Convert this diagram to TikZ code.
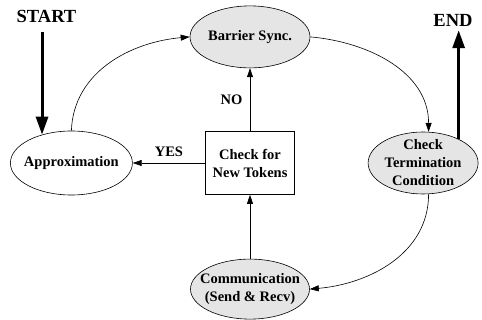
\documentclass[tikz,border=0pt]{standalone}
\usepackage{fontspec}
\setmainfont{Liberation Serif}
\usepackage{tikz}
\usetikzlibrary{arrows.meta,positioning,shapes.geometric}
\tikzset{
  tokenpicture/.style={node distance=63pt and 72.5pt, line width=0.6pt, font=\fontsize{14.5}{18}\selectfont\bfseries},
  tokenstate/.style={ellipse, draw, align=center, inner xsep=-14pt, inner ysep=-10pt, fill=gray!20},
  tokenplain/.style={tokenstate, fill=white},
  tokenbox/.style={draw, align=center, inner sep=0pt, minimum width=89pt, minimum height=63pt},
  tokenend/.style={font=\fontsize{18.5}{21}\selectfont\bfseries},
  tokenarrow/.style={-{Triangle[length=9pt,width=6pt]}},
  tokenbig/.style={-{Triangle[length=18pt,width=12pt]}, line width=3pt}
}

\begin{document}
\begin{tikzpicture}[tokenpicture]
\useasboundingbox (-250pt,-157pt) rectangle (232pt,163pt);
\node[tokenbox] (check) at (0,0) {Check for\\New Tokens};
\node[tokenstate, minimum width=120pt, minimum height=62pt, above=of check] (barrier) {Barrier Sync.};
\node[tokenstate, minimum width=119pt, minimum height=60pt, below=64pt of check] (comm) {Communication\\(Send \& Recv)};
\node[tokenplain, minimum width=122pt, minimum height=64pt, left=of check] (approx) {Approximation};
\node[tokenstate, minimum width=110pt, minimum height=62pt, right=73pt of check] (term) {Check\\Termination\\Condition};
\node[tokenend] (start) at (-203.5pt,146.5pt) {START};
\node[tokenend] (end) at (203pt,142.5pt) {END};
\draw[tokenbig, shorten <=6pt] (approx.136 |- start.south) -- (approx.136);
\draw[tokenbig] (term.34) -- (term.34 |- end.south);
\draw[tokenarrow] (approx.north) to[out=88, in=185] (barrier.west);
\draw[tokenarrow] (barrier.east) to[out=-5, in=90] (term.80);
\draw[tokenarrow] (term.-80) to[out=-90, in=5] (comm.east);
\draw[tokenarrow] (comm) -- (check);
\draw[tokenarrow] (check) -- node[left=4pt] {NO} (barrier);
\draw[tokenarrow] (check) -- node[above=3pt] {YES} (approx);
\end{tikzpicture}
\end{document}
